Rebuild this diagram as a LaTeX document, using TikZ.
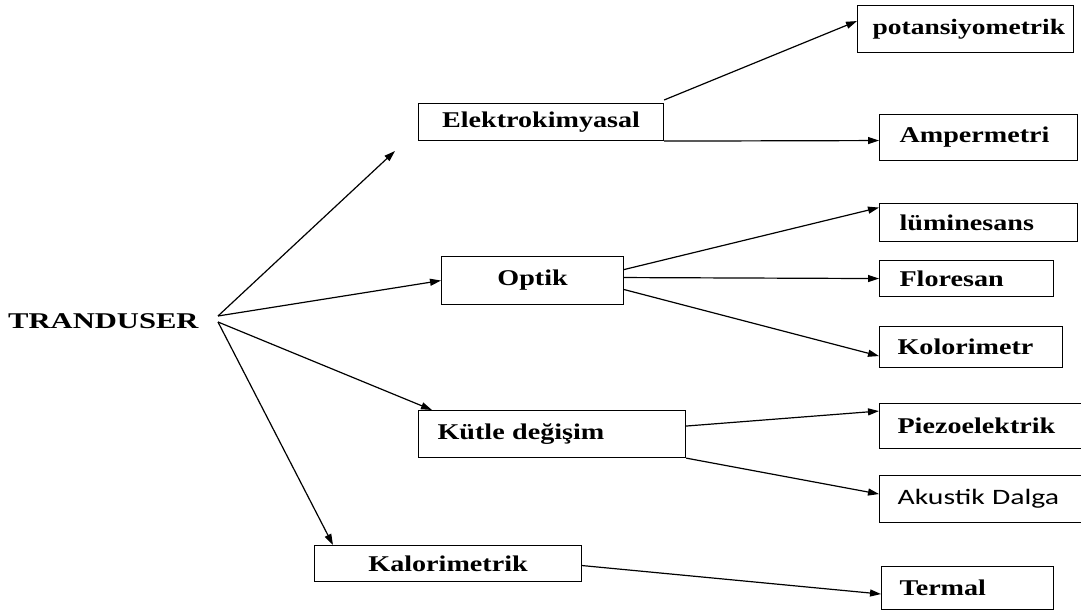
\documentclass[tikz,border=0pt]{standalone}
\usepackage{fontspec}
\setmainfont[FakeStretch=1.25]{Liberation Serif}
\newfontfamily\rootfont[FakeStretch=1.36]{Liberation Serif}
\newfontfamily\calfont[FakeStretch=1.35]{Carlito}
\usetikzlibrary{arrows.meta}

\tikzset{
    boxtext/.style={font=\fontsize{22.5}{26}\selectfont\bfseries},
    midbox/.style={draw, line width=1.1pt, anchor=north west, inner sep=0pt, boxtext},
    leafbox/.style={midbox, align=left, inner xsep=20pt},
    link/.style={line width=1.2pt, -{Triangle[length=11pt,width=7pt]}}
}

\begin{document}
\begin{tikzpicture}[x=1pt, y=-1pt]
    \clip (0,0) rectangle (1081,612);
    \fill[white] (0,0) rectangle (1081,612);

    % root
    \node[font=\fontsize{22.5}{26}\selectfont\rootfont\bfseries, anchor=west, inner sep=0pt] (tran) at (8,321) {TRANDUSER};
    \coordinate (tup) at (218,316);
    \coordinate (tdown) at (218,322);

    % second level
    \node[midbox, minimum width=245, minimum height=37] (elektro) at (418,103) {Elektrokimyasal};
    \node[midbox, minimum width=182, minimum height=48] (optik) at (441,256) {Optik};
    \node[midbox, align=left, inner xsep=19pt, text width=229, minimum height=47] (kutle) at (418,410) {K\"utle de\u{g}i\c{s}im};
    \node[midbox, minimum width=267, minimum height=36] (kalori) at (314,545) {Kalorimetrik};

    % third level
    \node[leafbox, inner xsep=15pt, text width=186, minimum height=47, font=\fontsize{22}{26}\selectfont\bfseries] (pot) at (857,5) {potansiyometrik};
    \node[leafbox, text width=158, minimum height=46] (amper) at (879,114) {Ampermetri};
    \node[leafbox, text width=158, minimum height=38] (lumin) at (879,203) {l\"uminesans};
    \node[leafbox, text width=134, minimum height=36] (flor) at (879,260) {Floresan};
    \node[leafbox, inner xsep=18pt, text width=147, minimum height=41] (kolor) at (879,326) {Kolorimetr};
    \node[leafbox, inner xsep=18pt, text width=190, minimum height=45] (piezo) at (879,403) {Piezoelektrik};
    \node[leafbox, inner xsep=18pt, text width=190, minimum height=47, font=\fontsize{22}{26}\selectfont\calfont] (akustik) at (879,475) {Akustik Dalga};
    \node[leafbox, inner xsep=18pt, text width=136, minimum height=43] (termal) at (881,566) {Termal};

    % from the root
    \coordinate (eltip) at (395,151);
    \draw[link] (tup) -- (eltip);
    \draw[link] (tup) -- (optik.west);
    \draw[link] (tdown) -- ([xshift=14pt]kutle.north west);
    \draw[link] (tdown) -- ([xshift=19pt]kalori.north west);

    % Elektrokimyasal
    \draw[link] ([yshift=3pt]elektro.north east) -- ([yshift=8pt]pot.west);
    \draw[link] (elektro.south east) -- ([yshift=-3pt]amper.west);

    % Optik
    \draw[link] ([yshift=11pt]optik.east) -- ([yshift=15pt]lumin.west);
    \draw[link] ([yshift=3pt]optik.east) -- (flor.west);
    \draw[link] ([yshift=-9pt]optik.east) -- ([yshift=-9pt]kolor.west);

    % Kutle degisim
    \draw[link] ([yshift=8pt]kutle.east) -- ([yshift=15pt]piezo.west);
    \draw[link] (kutle.south east) -- ([yshift=5pt]akustik.west);

    % Kalorimetrik
    \draw[link] ([yshift=-2pt]kalori.east) -- ([yshift=-6pt]termal.west);
\end{tikzpicture}
\end{document}
